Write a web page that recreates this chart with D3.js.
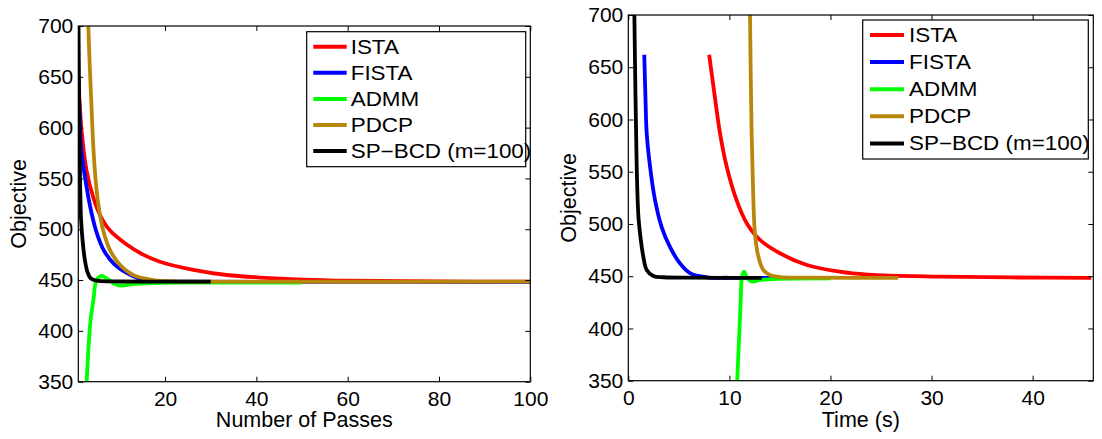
<!DOCTYPE html>
<html>
<head>
<meta charset="utf-8">
<script src="https://cdn.jsdelivr.net/npm/d3@7"></script>
<style>
  body { margin: 0; background: #fff; }
  svg { font-family: "Liberation Sans", Arial, sans-serif; }
</style>
</head>
<body>
<svg id="chart" width="1102" height="439"></svg>
<script>
// series names in legend order
var seriesNames = ['ISTA', 'FISTA', 'ADMM', 'PDCP', 'SP\u2212BCD (m=100)'];
var yTicks = [350, 400, 450, 500, 550, 600, 650, 700];
var passTicks = [20, 40, 60, 80, 100];
var timeTicks = [0, 10, 20, 30, 40];

// left panel: objective vs number of passes  [passes, objective]
var passISTA = [[1, 650], [1.7, 598], [2.8, 558], [4.3, 531], [5.75, 514], [7.9, 499], [11.6, 485], [15.2, 475],
    [18.9, 468], [26.2, 460], [33.5, 455], [40.8, 452.5], [50, 450.5], [60, 449.4], [80, 448.7], [100, 448.4]];
var passFISTA = [[1, 650], [1.3, 612], [1.6, 580], [2.8, 542], [3.9, 516], [5, 497], [6.5, 480], [8.7, 466.5],
    [11.6, 457], [14.5, 451], [17.4, 449], [25, 448.4], [50, 448.2], [100, 448.2]];
var passADMM = [[2.7, 330], [2.84, 350], [3.2, 381], [3.7, 411], [4.3, 430], [5, 450], [6.1, 454], [7.2, 451.7],
    [9, 446], [10.5, 444.5], [13, 446], [17.4, 447], [25, 447.5], [50, 447.6]];
var passPDCP = [[3, 740], [3.2, 700], [3.5, 662], [3.9, 620], [4.3, 580], [4.8, 548], [5.4, 524], [6.5, 498],
    [7.9, 480], [10.1, 465], [13, 455], [17.4, 450], [22.5, 448.8], [30, 448.5], [100, 448.4]];
var passSPBCD = [[1, 730], [1.2, 620], [1.4, 545], [1.6, 510], [2, 486], [2.5, 468], [3, 458], [3.5, 453],
    [4, 451], [5, 449.5], [6, 449], [10, 448.6], [20, 448.4], [30, 448.4]];

// right panel: objective vs time in seconds  [time, objective]
var timeISTA = [[8, 662], [8.6, 619], [9.07, 587], [9.73, 555], [10.7, 523], [11.7, 501], [13, 485], [15, 472],
    [17.6, 461], [20.9, 454.3], [23.7, 451.5], [30.7, 449.6], [38, 448.8], [45.8, 448.5]];
var timeFISTA = [[1.58, 662], [1.7, 620], [1.82, 587], [2.15, 555], [2.64, 523], [3.3, 497], [4.12, 478],
    [5.1, 462.4], [6.1, 453], [7.75, 449], [10, 448.5], [19.5, 448.3]];
var timeADMM = [[10.75, 340], [10.78, 351], [10.98, 395], [11.12, 427], [11.25, 449.6], [11.45, 454.3],
    [11.7, 449.6], [12.2, 445], [13, 446.4], [14.7, 447.5], [20, 448]];
var timePDCP = [[11.98, 760], [12.04, 700], [12.2, 587], [12.37, 523], [12.53, 491], [12.86, 469], [13.35, 456],
    [14, 451.2], [15, 449.2], [18, 448.6], [26.7, 448.5]];
var timeSPBCD = [[0.55, 730], [0.6, 700], [0.83, 555], [1.0, 507], [1.16, 491], [1.48, 469], [1.82, 456],
    [2.47, 450.2], [3.5, 449], [6, 448.6], [13.2, 448.5]];

var colors = ['#ff0000', '#0000ff', '#00ff00', '#b8860b', '#000000'];

var svg = d3.select('#chart');

function drawPanel(id, box, xDomain, xTicks, xTitle, lines, leg) {

    var xs = d3.scaleLinear().domain(xDomain).range([box.x0, box.x1]);
    var ys = d3.scaleLinear().domain([350, 700]).range([box.y1, box.y0]);

    svg.append('clipPath').attr('id', 'clip' + id)
        .append('rect')
        .attr('x', box.x0).attr('y', box.y0)
        .attr('width', box.x1 - box.x0).attr('height', box.y1 - box.y0);

    var line = d3.line()
        .x(function (d) { return xs(d[0]); })
        .y(function (d) { return ys(d[1]); })
        .curve(d3.curveCatmullRom.alpha(0.5));

    svg.append('g').attr('clip-path', 'url(#clip' + id + ')')
        .selectAll('path').data(lines)
        .enter()
        .append('path')
        .attr('d', line)
        .attr('fill', 'none')
        .attr('stroke', function (d, i) { return colors[i]; })
        .attr('stroke-width', 3.8)
        .attr('stroke-linejoin', 'round');

    // axes, ticks pointing inward on all four sides
    var ax = svg.append('g').attr('class', 'axes');

    ax.append('g')
        .attr('transform', 'translate(0,' + box.y1 + ')')
        .call(d3.axisBottom(xs).tickValues(xTicks).tickSize(-5).tickPadding(9.5).tickFormat(d3.format('d')));
    ax.append('g')
        .attr('transform', 'translate(0,' + box.y0 + ')')
        .call(d3.axisTop(xs).tickValues(xTicks).tickSize(-5).tickFormat(''));
    ax.append('g')
        .attr('transform', 'translate(' + box.x0 + ',0)')
        .call(d3.axisLeft(ys).tickValues(yTicks).tickSize(-5).tickPadding(5));
    ax.append('g')
        .attr('transform', 'translate(' + box.x1 + ',0)')
        .call(d3.axisRight(ys).tickValues(yTicks).tickSize(-5).tickFormat(''));

    ax.selectAll('.domain').remove();
    ax.selectAll('line').attr('stroke', '#000').attr('stroke-width', 1);
    ax.selectAll('text').attr('font-size', 21).attr('fill', '#000')
        .attr('font-family', '"Liberation Sans", Arial, sans-serif');

    svg.append('rect')
        .attr('x', box.x0).attr('y', box.y0)
        .attr('width', box.x1 - box.x0).attr('height', box.y1 - box.y0)
        .attr('fill', 'none').attr('stroke', '#000').attr('stroke-width', 1.2);

    svg.append('text')
        .attr('text-anchor', 'middle')
        .attr('x', (box.x0 + box.x1) / 2)
        .attr('y', 427)
        .attr('font-size', 21.5)
        .text(xTitle);

    svg.append('text')
        .attr('text-anchor', 'middle')
        .attr('transform', 'translate(' + (box.x0 - 52) + ',' + ((box.y0 + box.y1) / 2) + ') rotate(-90)')
        .attr('font-size', 21.5)
        .text('Objective');

    // legend
    var lg = svg.append('g');
    lg.append('rect')
        .attr('x', leg.x0).attr('y', leg.y0)
        .attr('width', leg.x1 - leg.x0).attr('height', leg.y1 - leg.y0)
        .attr('fill', '#fff').attr('stroke', '#000').attr('stroke-width', 1.2);

    var items = lg.selectAll('g.item').data(seriesNames)
        .enter()
        .append('g')
        .attr('transform', function (d, i) { return 'translate(0,' + (leg.top + i * leg.step) + ')'; });

    items.append('line')
        .attr('x1', leg.lx0).attr('x2', leg.lx1)
        .attr('stroke', function (d, i) { return colors[i]; })
        .attr('stroke-width', 4);

    items.append('text')
        .attr('transform', 'translate(' + leg.tx + ',0) scale(1.15,1)')
        .attr('dy', '0.35em')
        .attr('font-size', 19.5)
        .text(function (d) { return d; });
}

drawPanel('L',
    { x0: 78.3, x1: 530.3, y0: 26, y1: 381.7 },
    [1, 100], passTicks, 'Number of Passes',
    [passISTA, passFISTA, passADMM, passPDCP, passSPBCD],
    { x0: 306.7, x1: 525.7, y0: 31.7, y1: 166.7, top: 46.7, step: 26.1, lx0: 313.3, lx1: 346.7, tx: 350.7 });

drawPanel('R',
    { x0: 628.3, x1: 1093.3, y0: 15, y1: 380.7 },
    [0, 46], timeTicks, 'Time (s)',
    [timeISTA, timeFISTA, timeADMM, timePDCP, timeSPBCD],
    { x0: 862.7, x1: 1088.3, y0: 20, y1: 159, top: 35, step: 27.1, lx0: 870, lx1: 904, tx: 909 });
</script>
</body>
</html>
